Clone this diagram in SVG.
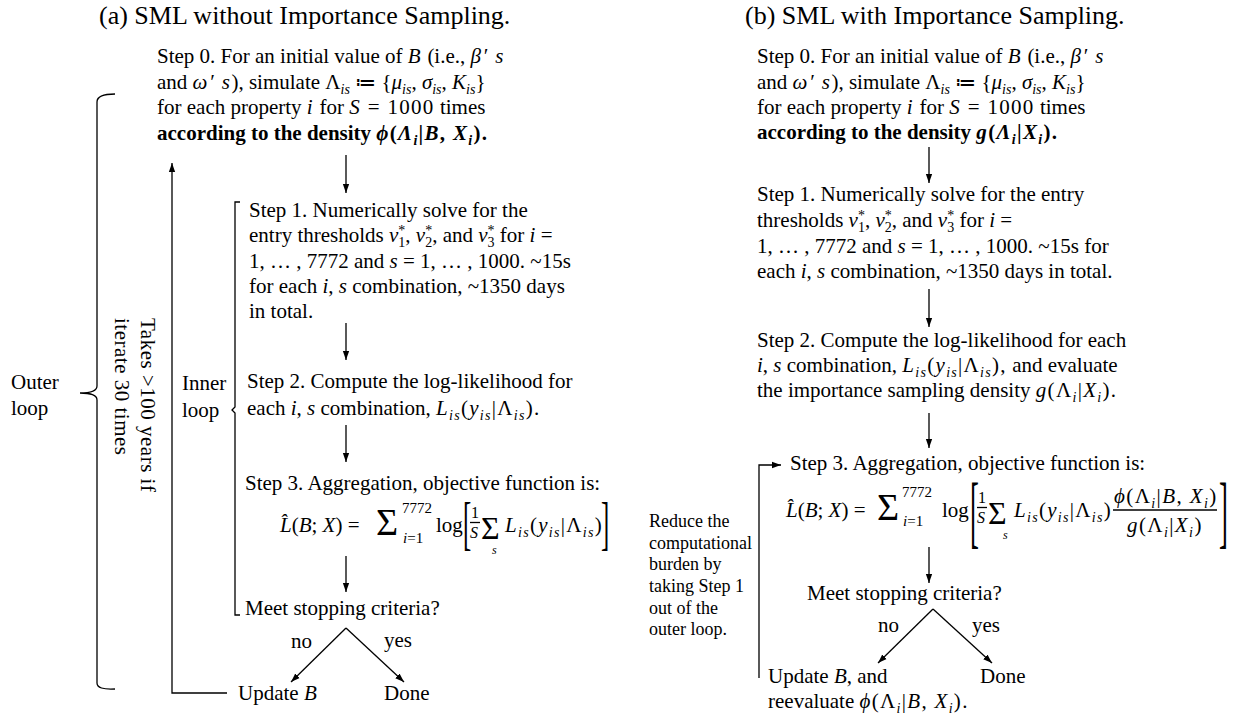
<svg xmlns="http://www.w3.org/2000/svg" width="1233" height="717" viewBox="0 0 1233 717">
<defs>
<style>
text{font-family:"Liberation Serif","Times New Roman",serif;font-size:21px;fill:#000}
.ttl{font-size:26px}
.i{font-style:italic}
.m{font-style:italic;letter-spacing:1.5px}
.ls{letter-spacing:1.3px}
.b{font-weight:bold}
.s{font-size:14px}
.sm{font-size:15px}
.fr{font-size:16px}
.note{font-size:18px}
.ln{stroke:#000;stroke-width:1.3;fill:none}
.arr{stroke:#000;stroke-width:1.3;fill:none;marker-end:url(#ah)}
</style>
<marker id="ah" viewBox="0 0 10 10" refX="10" refY="5" markerWidth="9" markerHeight="9" markerUnits="userSpaceOnUse" orient="auto"><path d="M0,1.5 L10,5 L0,8.5 z" fill="#000"/></marker>
</defs>
<rect width="1233" height="717" fill="#fff"/>

<!-- ===== Left panel ===== -->
<text id="title-a" class="ttl" x="99" y="24">(a) SML without Importance Sampling.</text>

<g id="a-step0">
<text x="157" y="63">Step 0. For an initial value of <tspan class="m">B</tspan> (i.e., <tspan class="m">β′ s</tspan></text>
<text x="157" y="88.5">and <tspan class="m">ω′ s</tspan>), simulate Λ<tspan class="i s" dy="5">is</tspan><tspan dy="-5"> ≔ {</tspan><tspan class="i">μ</tspan><tspan class="i s" dy="5">is</tspan><tspan dy="-5">, </tspan><tspan class="i">σ</tspan><tspan class="i s" dy="5">is</tspan><tspan dy="-5">, </tspan><tspan class="i">K</tspan><tspan class="i s" dy="5">is</tspan><tspan dy="-5">}</tspan></text>
<text x="157" y="114">for each property <tspan class="m">i</tspan> for <tspan class="m">S</tspan><tspan class="ls"> = 1000</tspan> times</text>
<text class="b" x="157" y="140">according to the density <tspan class="ls"><tspan class="i">ϕ</tspan>(<tspan class="i">Λ</tspan><tspan class="i s" dy="5">i</tspan><tspan dy="-5">|</tspan><tspan class="i">B</tspan>, <tspan class="i">X</tspan><tspan class="i s" dy="5">i</tspan><tspan dy="-5">).</tspan></tspan></text>
</g>

<g id="a-step1">
<text x="249" y="217">Step 1. Numerically solve for the</text>
<text x="249" y="242">entry thresholds <tspan class="i">v</tspan><tspan class="s" dy="5">1</tspan><tspan class="s" dx="-7" dy="-12">*</tspan><tspan dy="7">, </tspan><tspan class="i">v</tspan><tspan class="s" dy="5">2</tspan><tspan class="s" dx="-7" dy="-12">*</tspan><tspan dy="7">, and </tspan><tspan class="i">v</tspan><tspan class="s" dy="5">3</tspan><tspan class="s" dx="-7" dy="-12">*</tspan><tspan dy="7"> for </tspan><tspan class="i">i</tspan> =</text>
<text x="249" y="268">1, … , 7772 and <tspan class="i">s</tspan> = 1, … , 1000. ~15s</text>
<text x="249" y="293">for each <tspan class="i">i</tspan>, <tspan class="i">s</tspan> combination, ~1350 days</text>
<text x="249" y="318">in total.</text>
</g>

<g id="a-step2">
<text x="247" y="388">Step 2. Compute the log-likelihood for</text>
<text x="247" y="415">each <tspan class="i">i</tspan>, <tspan class="i">s</tspan> combination, <tspan class="ls"><tspan class="i">L</tspan><tspan class="i s" dy="5">is</tspan><tspan dy="-5">(</tspan><tspan class="i">y</tspan><tspan class="i s" dy="5">is</tspan><tspan dy="-5">|Λ</tspan><tspan class="i s" dy="5">is</tspan><tspan dy="-5">).</tspan></tspan></text>
</g>

<g id="a-step3">
<text x="245" y="490">Step 3. Aggregation, objective function is:</text>
<text x="280" y="532"><tspan class="i">L̂</tspan>(<tspan class="i">B</tspan>; <tspan class="i">X</tspan>) =</text>
<text x="376" y="535" style="font-size:38px">Σ</text>
<text class="sm" x="402" y="513">7772</text>
<text class="sm" x="403" y="543"><tspan class="i">i</tspan>=1</text>
<text x="436" y="532">log</text>
<text transform="translate(463,543) scale(0.42,1)" style="font-size:59px">[</text>
<text class="fr" x="471" y="517.5">1</text>
<line class="ln" x1="470" y1="522.5" x2="480" y2="522.5"/>
<text class="fr i" x="470" y="538">S</text>
<text x="481" y="539" style="font-size:32px">Σ</text>
<text class="i" x="492" y="554" style="font-size:12px">s</text>
<text class="ls" x="505" y="532"><tspan class="i">L</tspan><tspan class="i s" dy="5">is</tspan><tspan dy="-5">(</tspan><tspan class="i">y</tspan><tspan class="i s" dy="5">is</tspan><tspan dy="-5">|Λ</tspan><tspan class="i s" dy="5">is</tspan><tspan dy="-5">)</tspan></text>
<text transform="translate(601,543) scale(0.42,1)" style="font-size:59px">]</text>
</g>

<g id="a-stop">
<text x="245" y="615">Meet stopping criteria?</text>
</g>
<g id="a-no"><text x="291" y="648">no</text></g>
<g id="a-yes"><text x="384" y="647">yes</text></g>
<g id="a-update"><text x="238" y="700">Update <tspan class="i">B</tspan></text></g>
<g id="a-done"><text x="384" y="700">Done</text></g>

<g id="a-outer-label">
<text x="11" y="389">Outer</text>
<text x="11" y="415">loop</text>
</g>
<g id="a-inner-label">
<text x="182" y="390">Inner</text>
<text x="182" y="417">loop</text>
</g>
<g id="a-time-label">
<text transform="translate(141,318) rotate(90)" style="letter-spacing:0.5px">Takes &gt;100 years if<tspan x="0" dy="26">iterate 30 times</tspan></text>
</g>

<g id="a-braces">
<path class="ln" d="M115,94 Q97,94 97,102 L97,386 Q97,393 80,393 Q97,393 97,400 L97,683 Q97,690 115,689"/>
<path class="ln" d="M240,202 L235,202 L235,407 L232,410 L235,413 L235,615 L240,615"/>
</g>

<!-- ===== Right panel ===== -->
<text id="title-b" class="ttl" x="745" y="24">(b) SML with Importance Sampling.</text>

<g id="b-step0">
<text x="757" y="63">Step 0. For an initial value of <tspan class="m">B</tspan> (i.e., <tspan class="m">β′ s</tspan></text>
<text x="757" y="88.5">and <tspan class="m">ω′ s</tspan>), simulate Λ<tspan class="i s" dy="5">is</tspan><tspan dy="-5"> ≔ {</tspan><tspan class="i">μ</tspan><tspan class="i s" dy="5">is</tspan><tspan dy="-5">, </tspan><tspan class="i">σ</tspan><tspan class="i s" dy="5">is</tspan><tspan dy="-5">, </tspan><tspan class="i">K</tspan><tspan class="i s" dy="5">is</tspan><tspan dy="-5">}</tspan></text>
<text x="757" y="114">for each property <tspan class="m">i</tspan> for <tspan class="m">S</tspan><tspan class="ls"> = 1000</tspan> times</text>
<text class="b" x="757" y="139">according to the density <tspan class="ls"><tspan class="i">g</tspan>(<tspan class="i">Λ</tspan><tspan class="i s" dy="5">i</tspan><tspan dy="-5">|</tspan><tspan class="i">X</tspan><tspan class="i s" dy="5">i</tspan><tspan dy="-5">).</tspan></tspan></text>
</g>

<g id="b-step1">
<text x="757" y="201">Step 1. Numerically solve for the entry</text>
<text x="757" y="227">thresholds <tspan class="i">v</tspan><tspan class="s" dy="5">1</tspan><tspan class="s" dx="-7" dy="-12">*</tspan><tspan dy="7">, </tspan><tspan class="i">v</tspan><tspan class="s" dy="5">2</tspan><tspan class="s" dx="-7" dy="-12">*</tspan><tspan dy="7">, and </tspan><tspan class="i">v</tspan><tspan class="s" dy="5">3</tspan><tspan class="s" dx="-7" dy="-12">*</tspan><tspan dy="7"> for </tspan><tspan class="i">i</tspan> =</text>
<text x="757" y="253">1, … , 7772 and <tspan class="i">s</tspan> = 1, … , 1000. ~15s for</text>
<text x="757" y="278">each <tspan class="i">i</tspan>, <tspan class="i">s</tspan> combination, ~1350 days in total.</text>
</g>

<g id="b-step2">
<text x="757" y="347">Step 2. Compute the log-likelihood for each</text>
<text x="757" y="372"><tspan class="i">i</tspan>, <tspan class="i">s</tspan> combination, <tspan class="ls"><tspan class="i">L</tspan><tspan class="i s" dy="5">is</tspan><tspan dy="-5">(</tspan><tspan class="i">y</tspan><tspan class="i s" dy="5">is</tspan><tspan dy="-5">|Λ</tspan><tspan class="i s" dy="5">is</tspan><tspan dy="-5">),</tspan></tspan> and evaluate</text>
<text x="757" y="397">the importance sampling density <tspan class="ls"><tspan class="i">g</tspan>(Λ<tspan class="i s" dy="5">i</tspan><tspan dy="-5">|</tspan><tspan class="i">X</tspan><tspan class="i s" dy="5">i</tspan><tspan dy="-5">).</tspan></tspan></text>
</g>

<g id="b-step3">
<text x="790" y="470">Step 3. Aggregation, objective function is:</text>
<text x="786" y="517"><tspan class="i">L̂</tspan>(<tspan class="i">B</tspan>; <tspan class="i">X</tspan>) =</text>
<text x="877" y="520" style="font-size:38px">Σ</text>
<text class="sm" x="902" y="497">7772</text>
<text class="sm" x="903" y="526"><tspan class="i">i</tspan>=1</text>
<text x="942" y="517">log</text>
<text transform="translate(970,538) scale(0.33,1)" style="font-size:81px">[</text>
<text class="fr" x="978" y="502.5">1</text>
<line class="ln" x1="977" y1="507.5" x2="987" y2="507.5"/>
<text class="fr i" x="977" y="523">S</text>
<text x="988" y="524" style="font-size:32px">Σ</text>
<text class="i" x="1003" y="539" style="font-size:12px">s</text>
<text class="ls" x="1014" y="517"><tspan class="i">L</tspan><tspan class="i s" dy="5">is</tspan><tspan dy="-5">(</tspan><tspan class="i">y</tspan><tspan class="i s" dy="5">is</tspan><tspan dy="-5">|Λ</tspan><tspan class="i s" dy="5">is</tspan><tspan dy="-5">)</tspan></text>
<text x="1114" y="503" style="letter-spacing:1.4px"><tspan class="i">ϕ</tspan>(Λ<tspan class="i s" dy="5">i</tspan><tspan dy="-5">|</tspan><tspan class="i">B</tspan>, <tspan class="i">X</tspan><tspan class="i s" dy="5">i</tspan><tspan dy="-5">)</tspan></text>
<line class="ln" x1="1113" y1="510" x2="1217" y2="510"/>
<text x="1127" y="532" style="letter-spacing:1.4px"><tspan class="i">g</tspan>(Λ<tspan class="i s" dy="5">i</tspan><tspan dy="-5">|</tspan><tspan class="i">X</tspan><tspan class="i s" dy="5">i</tspan><tspan dy="-5">)</tspan></text>
<text transform="translate(1219,538) scale(0.33,1)" style="font-size:81px">]</text>
</g>

<g id="b-stop"><text x="807" y="600">Meet stopping criteria?</text></g>
<g id="b-no"><text x="878" y="632">no</text></g>
<g id="b-yes"><text x="972" y="632">yes</text></g>
<g id="b-update">
<text x="768" y="683">Update <tspan class="i">B</tspan>, and</text>
<text x="768" y="708">reevaluate <tspan class="ls"><tspan class="i">ϕ</tspan>(Λ<tspan class="i s" dy="5">i</tspan><tspan dy="-5">|</tspan><tspan class="i">B</tspan>, <tspan class="i">X</tspan><tspan class="i s" dy="5">i</tspan><tspan dy="-5">).</tspan></tspan></text>
</g>
<g id="b-done"><text x="980" y="683">Done</text></g>
<g id="b-note">
<text class="note" x="649" y="527">Reduce the</text>
<text class="note" x="649" y="549">computational</text>
<text class="note" x="649" y="570">burden by</text>
<text class="note" x="649" y="592">taking Step 1</text>
<text class="note" x="649" y="614">out of the</text>
<text class="note" x="649" y="635">outer loop.</text>
</g>

<!-- ===== Connectors ===== -->
<g id="connectors">
<line class="arr" x1="346" y1="155" x2="346" y2="193"/>
<line class="arr" x1="346" y1="323" x2="346" y2="360"/>
<line class="arr" x1="346" y1="425" x2="346" y2="462"/>
<line class="arr" x1="346" y1="556" x2="346" y2="592"/>
<line class="arr" x1="346" y1="628" x2="291" y2="682"/>
<line class="arr" x1="346" y1="628" x2="404" y2="682"/>
<polyline class="arr" points="227,693 172,693 172,163"/>

<line class="arr" x1="929" y1="147" x2="929" y2="183"/>
<line class="arr" x1="929" y1="289" x2="929" y2="327"/>
<line class="arr" x1="929" y1="413" x2="929" y2="448"/>
<line class="arr" x1="929" y1="547" x2="929" y2="583"/>
<line class="arr" x1="933" y1="609" x2="878" y2="663"/>
<line class="arr" x1="933" y1="609" x2="992" y2="663"/>
<polyline class="arr" points="759,678 759,465 781,465"/>
</g>
</svg>
